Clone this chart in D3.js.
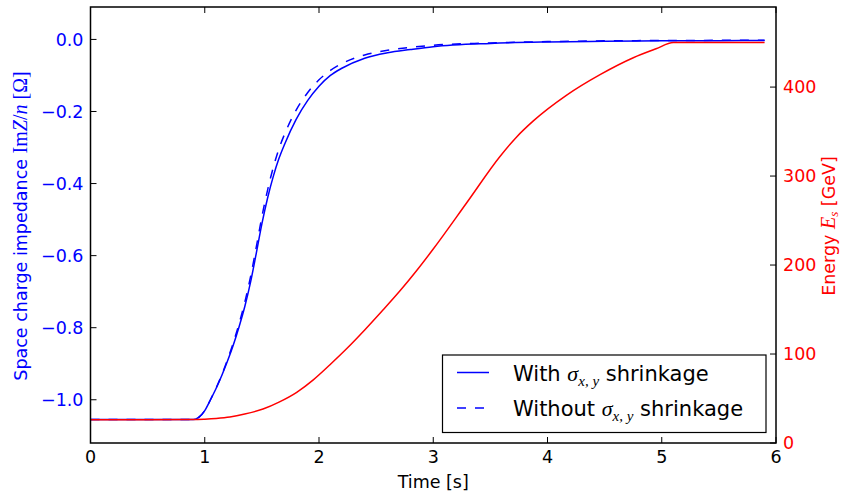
<!DOCTYPE html>
<html><head><meta charset="utf-8">
<script src="https://cdn.jsdelivr.net/npm/d3@7"></script>
<style>
body{margin:0;background:#fff;}
svg{display:block;font-family:"DejaVu Sans",sans-serif;}
</style></head>
<body>
<svg id="c" width="843" height="498"></svg>
<script>
// ---- data ----
const tBlue = [0, 0.5, 0.9, 0.95, 1.0, 1.05, 1.1, 1.15, 1.2, 1.25, 1.3, 1.35, 1.4, 1.45, 1.5, 1.55, 1.6, 1.65, 1.7, 1.8, 1.9, 2.0, 2.1, 2.2, 2.4, 2.6, 2.8, 3.0, 3.5, 4.0, 4.5, 5.0, 5.5, 5.9];
const zWith = [-1.055, -1.055, -1.055, -1.048, -1.03, -1.0, -0.968, -0.932, -0.892, -0.848, -0.798, -0.742, -0.675, -0.595, -0.512, -0.44, -0.38, -0.33, -0.29, -0.222, -0.17, -0.13, -0.10, -0.08, -0.052, -0.037, -0.028, -0.020, -0.011, -0.007, -0.005, -0.004, -0.0035, -0.003];
const zWithout = [-1.055, -1.055, -1.055, -1.048, -1.03, -1.0, -0.967, -0.930, -0.888, -0.842, -0.789, -0.730, -0.660, -0.578, -0.492, -0.418, -0.355, -0.303, -0.262, -0.196, -0.148, -0.112, -0.086, -0.067, -0.043, -0.030, -0.022, -0.016, -0.010, -0.006, -0.004, -0.003, -0.0025, -0.002];
const tRed = [0, 0.5, 0.9, 1.0, 1.1, 1.22, 1.35, 1.51, 1.65, 1.805, 1.95, 2.096, 2.25, 2.4, 2.55, 2.709, 2.85, 3.0, 3.293, 3.584, 3.73, 3.876, 4.168, 4.46, 4.751, 4.95, 5.101, 5.5, 5.9];
const energy = [26, 26, 26.3, 26.8, 27.6, 29.2, 32.5, 38.2, 46, 57, 71, 88, 107, 127, 148, 171, 193, 218, 270, 322, 344, 362, 391, 414, 433, 443, 450, 450, 450];
const xTicks = [0, 1, 2, 3, 4, 5, 6];
const zTicks = [0.0, -0.2, -0.4, -0.6, -0.8, -1.0];
const eTicks = [0, 100, 200, 300, 400];

// ---- layout ----
const L = 90.5, R = 776, T = 7, B = 443;
const svg = d3.select("#c");
const x = d3.scaleLinear().domain([0, 6]).range([L, R]);
const yZ = d3.scaleLinear().domain([-1.12, 0.09]).range([B, T]);
const yE = d3.scaleLinear().domain([0, 490]).range([B, T]);
const blue = "#0000ff", red = "#ff0000";
const fs = 17.5;
const lw = 1.5;

// curves
const lineZ = (vals) => d3.line().x((d, i) => x(tBlue[i])).y(d => yZ(d)).curve(d3.curveMonotoneX)(vals);
svg.append("path").attr("d", lineZ(zWith)).attr("fill", "none").attr("stroke", blue).attr("stroke-width", lw);
svg.append("path").attr("d", lineZ(zWithout)).attr("fill", "none").attr("stroke", blue).attr("stroke-width", lw).attr("stroke-dasharray", "9,9");
svg.append("path").attr("d", d3.line().x((d, i) => x(tRed[i])).y(d => yE(d)).curve(d3.curveMonotoneX)(energy))
  .attr("fill", "none").attr("stroke", red).attr("stroke-width", lw);

// frame
svg.append("rect").attr("x", L).attr("y", T).attr("width", R - L).attr("height", B - T)
  .attr("fill", "none").attr("stroke", "#000").attr("stroke-width", 1.5);

const tk = 6;
// x ticks (bottom & top, inward)
xTicks.forEach(v => {
  svg.append("line").attr("x1", x(v)).attr("x2", x(v)).attr("y1", B).attr("y2", B - tk).attr("stroke", "#000");
  svg.append("line").attr("x1", x(v)).attr("x2", x(v)).attr("y1", T).attr("y2", T + tk).attr("stroke", "#000");
  svg.append("text").attr("x", x(v)).attr("y", 463).attr("text-anchor", "middle").attr("font-size", fs).text(d3.format("d")(v));
});
// left ticks
zTicks.forEach(v => {
  svg.append("line").attr("x1", L).attr("x2", L + tk).attr("y1", yZ(v)).attr("y2", yZ(v)).attr("stroke", "#000");
  svg.append("text").attr("x", 83.5).attr("y", yZ(v)).attr("dy", "0.36em").attr("text-anchor", "end")
    .attr("font-size", fs).attr("fill", blue).text(d3.format(".1f")(v).replace("-", "\u2212"));
});
// right ticks
eTicks.forEach(v => {
  svg.append("line").attr("x1", R).attr("x2", R - tk).attr("y1", yE(v)).attr("y2", yE(v)).attr("stroke", "#000");
  svg.append("text").attr("x", 783).attr("y", yE(v)).attr("dy", "0.36em").attr("text-anchor", "start")
    .attr("font-size", fs).attr("fill", red).text(v);
});

// axis labels
svg.append("text").attr("x", (L + R) / 2).attr("y", 488).attr("text-anchor", "middle").attr("font-size", fs).text("Time [s]");

const serif = "'Liberation Serif','DejaVu Serif',serif";
const yl = svg.append("text").attr("transform", "translate(27,226) rotate(-90)").attr("text-anchor", "middle")
  .attr("font-size", fs).attr("fill", blue);
yl.append("tspan").text("Space charge impedance ");
yl.append("tspan").attr("font-family", serif).attr("font-size", 20).text("Im");
yl.append("tspan").attr("font-family", serif).attr("font-style", "italic").attr("font-size", 20).text("Z");
yl.append("tspan").attr("font-family", serif).attr("font-size", 20).text("/");
yl.append("tspan").attr("font-family", serif).attr("font-style", "italic").attr("font-size", 20).text("n");
yl.append("tspan").attr("font-family", serif).attr("font-size", 20).text(" [\u03A9]");

const el = svg.append("text").attr("transform", "translate(835,226) rotate(-90)").attr("text-anchor", "middle")
  .attr("font-size", fs).attr("fill", red);
el.append("tspan").text("Energy ");
el.append("tspan").attr("font-family", serif).attr("font-style", "italic").attr("font-size", 20).text("E");
el.append("tspan").attr("font-family", serif).attr("font-style", "italic").attr("font-size", 13).attr("dy", 3).text("s");
el.append("tspan").attr("dy", -3).text(" [GeV]");

// legend
svg.append("rect").attr("x", 442.5).attr("y", 355).attr("width", 323.5).attr("height", 77.5)
  .attr("fill", "#fff").attr("stroke", "#000").attr("stroke-width", 1.2);
const legend = [
  {pre: "With ", dash: null, y: 372.5},
  {pre: "Without ", dash: "9,9", y: 408}
];
legend.forEach(d => {
  svg.append("line").attr("x1", 457).attr("x2", 489).attr("y1", d.y).attr("y2", d.y)
    .attr("stroke", blue).attr("stroke-width", lw).attr("stroke-dasharray", d.dash);
  const t = svg.append("text").attr("x", 513).attr("y", d.y + 8).attr("font-size", 21);
  t.append("tspan").text(d.pre);
  t.append("tspan").attr("font-family", serif).attr("font-style", "italic").attr("font-size", 22).text("\u03C3");
  t.append("tspan").attr("font-family", serif).attr("font-style", "italic").attr("font-size", 15).attr("dy", 5).text("x, y");
  t.append("tspan").attr("dy", -5).text(" shrinkage");
});
</script>
</body></html>
